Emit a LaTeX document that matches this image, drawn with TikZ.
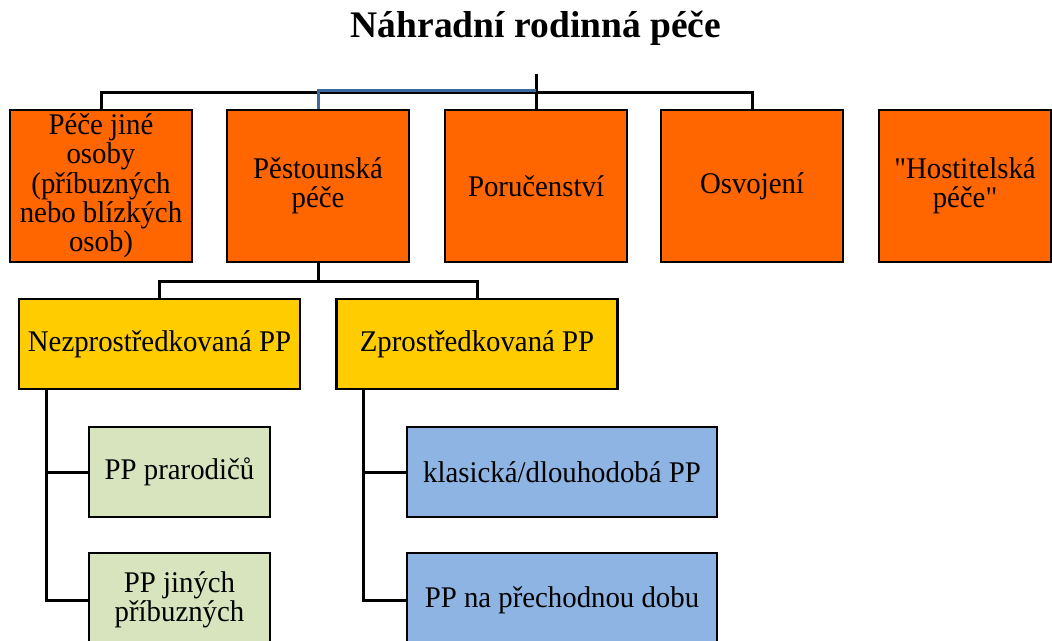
\documentclass[tikz,border=0pt]{standalone}
\usepackage{fontspec}
\setmainfont{Liberation Serif}[Ligatures=TeXOff]
\newfontfamily\boxfont{Liberation Serif}[Ligatures=TeXOff, FakeStretch=0.96]
\definecolor{pecorange}{HTML}{FF6600}
\definecolor{pecyellow}{HTML}{FFCC00}
\definecolor{pecgreen}{HTML}{D7E4BD}
\definecolor{pecblue}{HTML}{8DB4E2}
\definecolor{linkblue}{HTML}{3D6A9E}

\begin{document}
\begin{tikzpicture}[x=1pt, y=-1pt,
    box/.style={draw=black, line width=2.5pt, rectangle, inner sep=0pt, align=center,
      font=\boxfont\fontsize{30}{29.3}\selectfont},
    orangebox/.style={box, fill=pecorange, minimum width=182pt, minimum height=152pt},
    yellowbox/.style={box, fill=pecyellow, minimum width=281pt, minimum height=90pt},
    greenbox/.style={box, fill=pecgreen, minimum width=181pt},
    bluebox/.style={box, fill=pecblue, minimum width=310pt},
    conn/.style={draw=black, line width=3pt},
    connblue/.style={draw=linkblue, line width=3pt}]
    \useasboundingbox (0,0) rectangle (1052,640);

    % Title
    \node (title) at (536,28) {\fontsize{37.5}{39}\selectfont\bfseries Náhradní rodinná péče};

    % First row
    \node[orangebox] (jine) at (101,186) {Péče jiné\\osoby\\(příbuzných\\nebo blízkých\\osob)};
    \node[orangebox] (pest) at (318,186) {Pěstounská\\péče};
    \node[orangebox] (poruc) at (536,186) {Poručenství};
    \node[orangebox] (osvoj) at (752,186) {Osvojení};
    \node[orangebox, minimum width=172pt] (host) at (965,186) {"Hostitelská\\péče"};

    % Second row
    \node[yellowbox] (nezpr) at (159.5,344) {Nezprostředkovaná PP};
    \node[yellowbox] (zpr) at (477,344) {Zprostředkovaná PP};

    % Third row
    \node[greenbox, minimum height=90pt] (prar) at (179.5,472) {PP prarodičů};
    \node[greenbox, minimum height=94pt] (jiny) at (179.5,600) {PP jiných\\příbuzných};
    \node[bluebox, minimum height=90pt] (klas) at (562,472) {klasická/dlouhodobá PP};
    \node[bluebox, minimum height=94pt] (prech) at (562,600) {PP na přechodnou dobu};

    % Connectors from the title
    \coordinate (top) at (536,74);
    \coordinate (bus) at (536,92);
    \draw[conn] (top) -- (bus);
    \draw[conn] (bus) -| (jine.north);
    \draw[conn] (bus) -| (osvoj.north);
    \draw[conn] (bus) -- (poruc.north);
    \draw[connblue] ([yshift=2pt]bus) -| (pest.north);

    % Connectors below the foster care box
    \draw[conn] (pest.south) -- ++(0,18) coordinate (split);
    \draw[conn] (split) -| (nezpr.north);
    \draw[conn] (split) -| (zpr.north);

    % Side connectors
    \draw[conn] ([xshift=29pt]nezpr.south west) |- (prar.west);
    \draw[conn] ([xshift=29pt]nezpr.south west) |- (jiny.west);
    \draw[conn] ([xshift=28pt]zpr.south west) |- (klas.west);
    \draw[conn] ([xshift=28pt]zpr.south west) |- (prech.west);
\end{tikzpicture}
\end{document}
